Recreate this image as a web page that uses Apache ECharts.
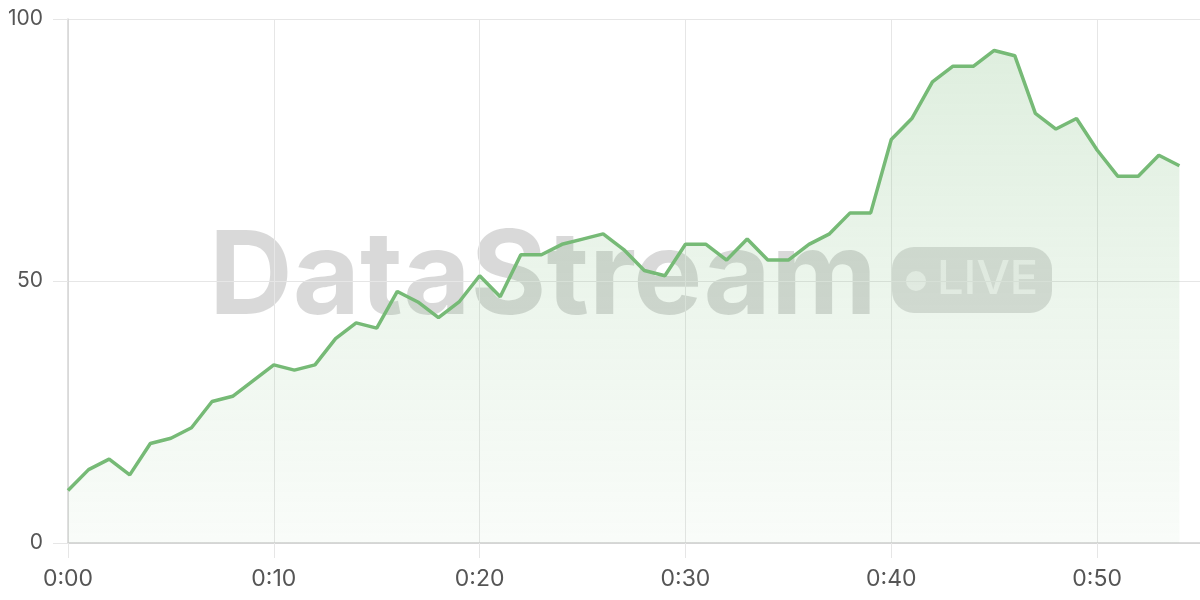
<!DOCTYPE html>
<html>
<head>
<meta charset="utf-8">
<script src="https://cdn.jsdelivr.net/npm/echarts@6/dist/echarts.min.js"></script>
<style>
html,body{margin:0;padding:0;background:#fff;}
#chart{width:1200px;height:600px;}
</style>
</head>
<body>
<div id="chart"></div>
<script>
// minutes since start
var minutes = [];
for (var m = 0; m <= 54; m++) minutes.push(m);
var values = [10,14,16,13,19,20,22,27,28,31,34,33,34,39,42,41,48,46,43,46,51,47,55,55,57,58,59,56,52,51,57,57,54,58,54,54,57,59,63,63,77,81,88,91,91,94,93,82,79,81,75,70,70,74,72];
var yTicks = [0, 50, 100];
var watermarkTitle = 'DataStream';
var watermarkBadge = 'LIVE';

var chart = echarts.init(document.getElementById('chart'));
var lineColor = '#76ba76';
var data = minutes.map(function (t, i) { return [t, values[i]]; });

chart.setOption({
  animation: false,
  grid: { left: 68, right: 0, top: 19, bottom: 57 },
  xAxis: {
    type: 'value', min: 0, max: 55, interval: 10,
    axisLine: { show: true, lineStyle: { color: '#cfcfcf', width: 1.5 } },
    axisTick: { show: true, length: 15, lineStyle: { color: '#e6e6e6' } },
    splitLine: { show: true, lineStyle: { color: '#e6e6e6' } },
    axisLabel: {
      color: '#555', fontSize: 23, fontFamily: 'Inter', margin: 25, showMaxLabel: false,
      formatter: function (v) { return '0:' + (v < 10 ? '0' + v : v); }
    }
  },
  yAxis: {
    type: 'value', min: yTicks[0], max: yTicks[yTicks.length - 1], interval: 50,
    axisLine: { show: true, lineStyle: { color: '#d4d4d4', width: 1.5 } },
    axisTick: { show: true, length: 15, lineStyle: { color: '#e6e6e6' } },
    splitLine: { show: true, lineStyle: { color: '#e6e6e6' } },
    axisLabel: { color: '#555', fontSize: 21, fontFamily: 'Inter', margin: 25 }
  },
  graphic: [
    {
      type: 'text', z: 0, left: 209, top: 221,
      style: { text: watermarkTitle, font: 'bold 116px Inter', fill: 'rgba(0,0,0,0.15)' }
    },
    {
      type: 'rect', z: 0, shape: { x: 892, y: 247, width: 160, height: 66, r: 22 },
      style: { fill: 'rgba(0,0,0,0.13)' }
    },
    {
      type: 'circle', z: 0, shape: { cx: 916, cy: 281, r: 10 },
      style: { fill: 'rgba(255,255,255,0.6)' }
    },
    {
      type: 'text', z: 0, left: 937, top: 256,
      style: { text: watermarkBadge, font: '500 47px Inter', fill: 'rgba(255,255,255,0.6)' }
    }
  ],
  series: [{
    type: 'line', data: data, showSymbol: false, z: 5,
    lineStyle: { color: lineColor, width: 3.5 },
    itemStyle: { color: lineColor },
    areaStyle: {
      color: new echarts.graphic.LinearGradient(0, 0, 0, 1, [
        { offset: 0, color: 'rgba(116,184,116,0.33)' },
        { offset: 1, color: 'rgba(116,184,116,0.06)' }
      ])
    }
  }]
});
</script>
</body>
</html>
